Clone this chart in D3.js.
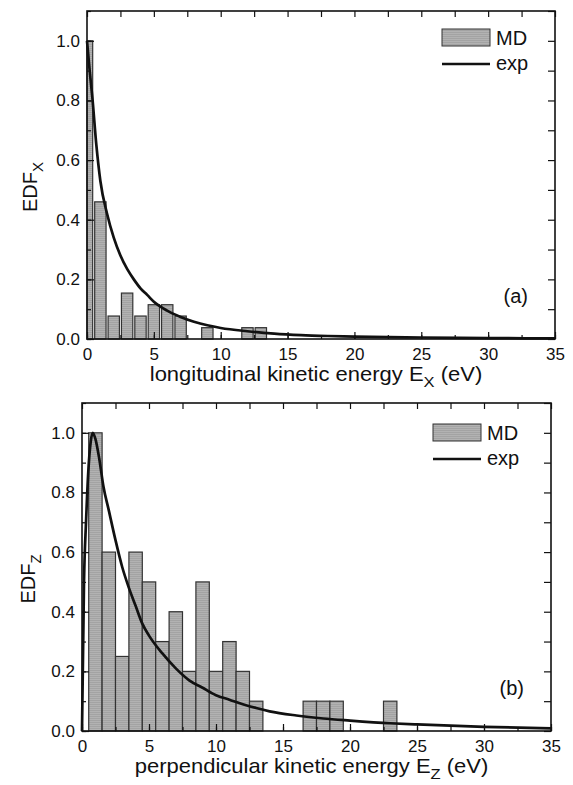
<!DOCTYPE html>
<html>
<head>
<meta charset="utf-8">
<script src="https://cdn.jsdelivr.net/npm/d3@7"></script>
<style>
    body { margin: 0; background: #fff; }
    text { font-family: "Liberation Sans", Arial, sans-serif; fill: #111; }
</style>
</head>
<body>
<svg id="drawing_region"></svg>
<script>
// axis ticks
const xTicks = [0, 5, 10, 15, 20, 25, 30, 35];
const yTicks = [0, 0.2, 0.4, 0.6, 0.8, 1.0];

// (a) longitudinal: MD histogram
const binsX = [0, 1, 2, 3, 4, 5, 6, 7, 8, 9, 10, 11, 12, 13];
const edfX = [1.0, 0.46, 0.077, 0.154, 0.077, 0.115, 0.115, 0.077, 0, 0.038, 0, 0, 0.038, 0.038];
// (a) exp curve
const expXe = [0, 0.2, 0.4, 0.7, 1.0, 1.5, 2, 2.5, 3, 3.5, 4, 4.5, 5, 6, 7, 8, 9, 10, 12, 14, 16, 18, 20, 25, 30, 35];
const expXv = [1.0, 0.9, 0.81, 0.65, 0.53, 0.42, 0.34, 0.28, 0.235, 0.2, 0.17, 0.148, 0.125, 0.095, 0.074, 0.058, 0.046, 0.037, 0.026, 0.018, 0.013, 0.01, 0.008, 0.005, 0.003, 0.002];

// (b) perpendicular: MD histogram
const binsZ = [1, 2, 3, 4, 5, 6, 7, 8, 9, 10, 11, 12, 13, 17, 18, 19, 23];
const edfZ = [1.0, 0.6, 0.25, 0.6, 0.5, 0.3, 0.4, 0.2, 0.5, 0.2, 0.3, 0.2, 0.1, 0.1, 0.1, 0.1, 0.1];
// (b) exp curve
const expZe = [0, 0.15, 0.3, 0.47, 0.65, 0.8, 1.0, 1.3, 1.6, 2.0, 2.5, 3.0, 3.5, 4, 4.5, 5, 6, 7, 8, 9, 10, 11, 12, 13, 14, 16, 18, 20, 23, 25, 30, 35];
const expZv = [0, 0.5, 0.7, 0.87, 0.97, 1.0, 0.98, 0.91, 0.82, 0.74, 0.64, 0.55, 0.48, 0.42, 0.36, 0.32, 0.26, 0.21, 0.17, 0.145, 0.12, 0.105, 0.09, 0.077, 0.066, 0.052, 0.042, 0.035, 0.026, 0.022, 0.014, 0.009];

const svg = d3.select('#drawing_region')
    .attr('width', 573)
    .attr('height', 785);

// grey stippled fill of the bars
const pat = svg.append('defs').append('pattern')
    .attr('id', 'stip')
    .attr('width', 3).attr('height', 2)
    .attr('patternUnits', 'userSpaceOnUse');
pat.append('rect').attr('width', 3).attr('height', 2).attr('fill', '#b2b2b2');
pat.append('rect').attr('width', 3).attr('height', 1).attr('fill', '#a3a3a3');

function drawPanel(cfg) {
    const x = d3.scaleLinear().domain([0, 35]).range([cfg.left, cfg.right]);
    const y = d3.scaleLinear().domain([0, 1.1]).range([cfg.bottom, cfg.top]);
    const g = svg.append('g');

    // bars
    const bars = cfg.bins.map((b, i) => ({ e: b, v: cfg.values[i] })).filter(d => d.v > 0);
    g.selectAll('rect.bar')
        .data(bars)
        .enter()
        .append('rect')
        .attr('class', 'bar')
        .attr('x', d => x(Math.max(0, d.e - cfg.barW / 2)))
        .attr('width', d => x(d.e + cfg.barW / 2) - x(Math.max(0, d.e - cfg.barW / 2)))
        .attr('y', d => y(d.v))
        .attr('height', d => y(0) - y(d.v))
        .attr('fill', 'url(#stip)')
        .attr('stroke', '#333')
        .attr('stroke-width', 1.2);

    // curve
    const line = d3.line()
        .x((d, i) => x(cfg.curveE[i]))
        .y(d => y(d))
        .curve(d3.curveMonotoneX);
    g.append('path')
        .datum(cfg.curveV)
        .attr('d', line)
        .attr('fill', 'none')
        .attr('stroke', '#111')
        .attr('stroke-width', 2.7);

    // axes, all ticks pointing inward
    const fmt = d3.format('.1f');
    const minorX = d3.range(0, 35.01, 2.5);
    const minorY = d3.range(0, 1.101, 0.1);

    const bx = g.append('g').attr('transform', `translate(0,${cfg.bottom})`)
        .call(d3.axisBottom(x).tickValues(xTicks).tickSizeInner(-7).tickSizeOuter(0).tickPadding(9));
    g.append('g').attr('transform', `translate(0,${cfg.bottom})`)
        .call(d3.axisBottom(x).tickValues(minorX).tickSize(-4).tickFormat(''));
    g.append('g').attr('transform', `translate(0,${cfg.top})`)
        .call(d3.axisTop(x).tickValues(minorX).tickSize(-6).tickFormat(''));

    const ly = g.append('g').attr('transform', `translate(${cfg.left},0)`)
        .call(d3.axisLeft(y).tickValues(yTicks).tickSizeInner(-7).tickSizeOuter(0).tickPadding(7).tickFormat(fmt));
    g.append('g').attr('transform', `translate(${cfg.left},0)`)
        .call(d3.axisLeft(y).tickValues(minorY).tickSize(-4).tickFormat(''));
    g.append('g').attr('transform', `translate(${cfg.right},0)`)
        .call(d3.axisRight(y).tickValues(minorY).tickSize(-7).tickFormat(''));

    g.selectAll('.domain').remove();
    g.selectAll('.tick line').attr('stroke', '#111').attr('stroke-width', 1.2);
    bx.selectAll('text').style('font-size', '17px').attr('fill', '#111');
    ly.selectAll('text').style('font-size', '17px').attr('fill', '#111');

    // frame
    g.append('rect')
        .attr('x', cfg.left).attr('y', cfg.top)
        .attr('width', cfg.right - cfg.left).attr('height', cfg.bottom - cfg.top)
        .attr('fill', 'none')
        .attr('stroke', '#111')
        .attr('stroke-width', 1.6);

    // legend
    g.append('rect')
        .attr('x', cfg.legX).attr('y', cfg.legY)
        .attr('width', 48).attr('height', 17)
        .attr('fill', 'url(#stip)')
        .attr('stroke', '#333');
    g.append('text')
        .attr('x', cfg.legX + 54).attr('y', cfg.legY + 16)
        .style('font-size', '20px')
        .text('MD');
    g.append('line')
        .attr('x1', cfg.legX).attr('x2', cfg.legX + 48)
        .attr('y1', cfg.legY + 35).attr('y2', cfg.legY + 35)
        .attr('stroke', '#111').attr('stroke-width', 2.7);
    g.append('text')
        .attr('x', cfg.legX + 54).attr('y', cfg.legY + 41)
        .style('font-size', '20px')
        .text('exp');

    // panel tag
    g.append('text')
        .attr('x', cfg.right - 27).attr('y', cfg.bottom - 36)
        .attr('text-anchor', 'end')
        .style('font-size', '20px')
        .text(cfg.tag);

    // x title, slightly widened like the original lettering
    const xt = g.append('text')
        .attr('transform', `translate(${(cfg.left + cfg.right) / 2 - 5},${cfg.bottom + 42}) scale(1.1,1)`)
        .attr('text-anchor', 'middle')
        .style('font-size', '20px');
    xt.append('tspan').text(cfg.xTitle + ' E');
    xt.append('tspan').attr('dy', 6).style('font-size', '15px').text(cfg.sub);
    xt.append('tspan').attr('dy', -6).text(' (eV)');

    // y title
    const yt = g.append('text')
        .attr('transform', `translate(${cfg.yTitleX},${(cfg.top + cfg.bottom) / 2 + 12}) rotate(-90)`)
        .attr('text-anchor', 'middle')
        .style('font-size', '20px');
    yt.append('tspan').text('EDF');
    yt.append('tspan').attr('dy', 6).style('font-size', '15px').text(cfg.sub);
}

drawPanel({
    left: 87, right: 555, top: 11, bottom: 339,
    bins: binsX, values: edfX, barW: 0.85,
    curveE: expXe, curveV: expXv,
    legX: 442, legY: 29, tag: '(a)',
    xTitle: 'longitudinal kinetic energy', sub: 'X', yTitleX: 37
});

drawPanel({
    left: 82, right: 551, top: 403, bottom: 731,
    bins: binsZ, values: edfZ, barW: 1.0,
    curveE: expZe, curveV: expZv,
    legX: 433, legY: 424, tag: '(b)',
    xTitle: 'perpendicular kinetic energy', sub: 'Z', yTitleX: 35
});
</script>
</body>
</html>
